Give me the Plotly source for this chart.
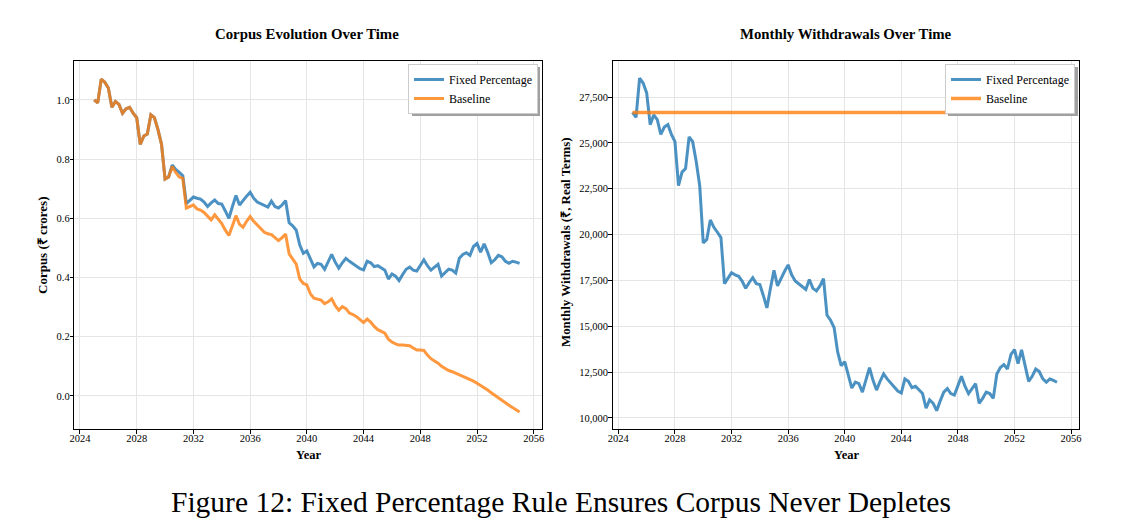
import plotly.graph_objects as go

# ---------------- data (quarterly from 2025.0) ----------------
corpus_fixed = [
    1.000, 0.990, 1.070, 1.060, 1.040, 0.975, 0.995, 0.985, 0.955, 0.970, 0.975, 0.955,
    0.940, 0.850, 0.878, 0.885, 0.950, 0.940, 0.900, 0.850, 0.733, 0.740, 0.780, 0.765,
    0.755, 0.744, 0.650, 0.662, 0.672, 0.668, 0.665, 0.655, 0.640, 0.652, 0.662, 0.650,
    0.648, 0.625, 0.600, 0.640, 0.677, 0.645, 0.662, 0.675, 0.688, 0.668, 0.655, 0.650,
    0.645, 0.638, 0.658, 0.640, 0.635, 0.645, 0.660, 0.585, 0.575, 0.560, 0.510, 0.482,
    0.490, 0.460, 0.436, 0.448, 0.445, 0.428, 0.455, 0.478, 0.452, 0.432, 0.450, 0.465,
    0.455, 0.447, 0.440, 0.430, 0.426, 0.455, 0.450, 0.437, 0.440, 0.432, 0.425, 0.395,
    0.412, 0.405, 0.390, 0.410, 0.428, 0.435, 0.425, 0.422, 0.440, 0.460, 0.440, 0.425,
    0.435, 0.445, 0.405, 0.415, 0.428, 0.425, 0.415, 0.465, 0.478, 0.484, 0.475, 0.505,
    0.515, 0.486, 0.514, 0.485, 0.450, 0.460, 0.475, 0.470, 0.455, 0.448, 0.455, 0.452,
    0.448,
]

corpus_baseline = [
    1.000, 0.990, 1.070, 1.060, 1.040, 0.975, 0.995, 0.985, 0.955, 0.970, 0.975, 0.955,
    0.940, 0.850, 0.878, 0.885, 0.950, 0.940, 0.900, 0.850, 0.733, 0.740, 0.775, 0.755,
    0.740, 0.735, 0.635, 0.640, 0.645, 0.632, 0.628, 0.620, 0.608, 0.595, 0.612, 0.598,
    0.582, 0.560, 0.542, 0.575, 0.609, 0.580, 0.570, 0.590, 0.606, 0.590, 0.577, 0.565,
    0.553, 0.548, 0.545, 0.535, 0.525, 0.535, 0.547, 0.480, 0.462, 0.445, 0.395, 0.380,
    0.375, 0.345, 0.330, 0.328, 0.324, 0.312, 0.318, 0.328, 0.305, 0.290, 0.302, 0.295,
    0.280, 0.275, 0.268, 0.258, 0.248, 0.260, 0.250, 0.235, 0.224, 0.218, 0.212, 0.192,
    0.182, 0.176, 0.172, 0.172, 0.172, 0.170, 0.162, 0.155, 0.155, 0.154, 0.138, 0.126,
    0.118, 0.111, 0.100, 0.092, 0.086, 0.082, 0.077, 0.072, 0.067, 0.060, 0.055, 0.050,
    0.043, 0.036, 0.028, 0.020, 0.011, 0.002, -0.007, -0.015, -0.023, -0.031, -0.039, -0.047,
    -0.054,
]

withdrawal_fixed = [
    26670, 26400, 28530, 28270, 27730, 26000, 26530, 26270, 25470, 25870, 26000, 25470,
    25070, 22670, 23410, 23600, 25330, 25070, 24000, 22670, 19550, 19730, 20800, 20400,
    20130, 19840, 17330, 17650, 17920, 17810, 17730, 17470, 17070, 17390, 17650, 17330,
    17280, 16670, 16000, 17070, 18050, 17200, 17650, 18000, 18350, 17810, 17470, 17330,
    17200, 17010, 17550, 17070, 16930, 17200, 17600, 15600, 15330, 14930, 13600, 12850,
    13070, 12270, 11630, 11950, 11870, 11410, 12130, 12750, 12050, 11520, 12000, 12400,
    12130, 11920, 11730, 11470, 11360, 12130, 12000, 11650, 11730, 11520, 11330, 10530,
    10990, 10800, 10400, 10930, 11410, 11600, 11330, 11250, 11730, 12270, 11730, 11330,
    11600, 11870, 10800, 11070, 11410, 11330, 11070, 12400, 12750, 12910, 12670, 13470,
    13730, 12960, 13710, 12930, 12000, 12270, 12670, 12530, 12130, 11950, 12130, 12050,
    11950,
]

withdrawal_baseline_value = 26667
years = [2025 + 0.25 * i for i in range(len(corpus_fixed))]
withdrawal_baseline = [withdrawal_baseline_value] * len(years)

x_ticks = [2024, 2028, 2032, 2036, 2040, 2044, 2048, 2052, 2056]
corpus_ticks = [0.0, 0.2, 0.4, 0.6, 0.8, 1.0]
withdraw_ticks = [10000, 12500, 15000, 17500, 20000, 22500, 25000, 27500]

# ---------------- styling ----------------
# the page body has an 8px margin, so the figure is 8px smaller and every
# reference pixel position is shifted by that margin
OFF = 8
W, H = 1121 - OFF, 521 - OFF
FONT = "Liberation Serif"
BLUE = "#1f77b4"
ORANGE = "#ff7f0e"


def px(x):
    return (x - OFF) / W


def py(y):
    return 1 - (y - OFF) / H


fig = go.Figure()

fig.add_trace(go.Scatter(x=years, y=corpus_fixed, mode="lines", name="Fixed Percentage",
                         line=dict(color=BLUE, width=3), opacity=0.8,
                         xaxis="x", yaxis="y", legend="legend"))
fig.add_trace(go.Scatter(x=years, y=corpus_baseline, mode="lines", name="Baseline",
                         line=dict(color=ORANGE, width=3), opacity=0.8,
                         xaxis="x", yaxis="y", legend="legend"))
fig.add_trace(go.Scatter(x=years, y=withdrawal_fixed, mode="lines", name="Fixed Percentage",
                         line=dict(color=BLUE, width=3), opacity=0.8,
                         xaxis="x2", yaxis="y2", legend="legend2"))
fig.add_trace(go.Scatter(x=years, y=withdrawal_baseline, mode="lines", name="Baseline",
                         line=dict(color=ORANGE, width=3.5), opacity=0.8,
                         xaxis="x2", yaxis="y2", legend="legend2"))

axis_common = dict(
    showline=True, linecolor="black", linewidth=1, mirror=True,
    ticks="outside", ticklen=3.5, tickwidth=0.8, tickcolor="black",
    showgrid=True, gridcolor="#e5e5e5", gridwidth=0.8, zeroline=False,
    tickfont=dict(family=FONT, size=10.5, color="black"), automargin=False,
)

xr = [2023.6, 2056.58]
ydom = [py(429), py(61)]
legend_common = dict(xanchor="right", yanchor="top", bgcolor="white",
                     bordercolor="#cccccc", borderwidth=1,
                     font=dict(family=FONT, size=12, color="black"), itemwidth=30,
                     tracegroupgap=0)
fig.update_layout(
    width=W, height=H,
    margin=dict(l=0, r=0, t=0, b=0),
    paper_bgcolor="white", plot_bgcolor="white",
    font=dict(family=FONT, color="black"),
    xaxis=dict(domain=[px(74.3), px(542)], range=xr, tickvals=x_ticks,
               anchor="y", ticklabelstandoff=-4, **axis_common),
    yaxis=dict(domain=ydom, range=[-0.1115, 1.1315], tickvals=corpus_ticks,
               tickformat=".1f", anchor="x", ticklabelstandoff=-2, **axis_common),
    xaxis2=dict(domain=[px(612.7), px(1079.3)], range=xr, tickvals=x_ticks,
                anchor="y2", ticklabelstandoff=-4, **axis_common),
    yaxis2=dict(domain=ydom, range=[9398, 29471], tickvals=withdraw_ticks,
                tickformat=",d", anchor="x2", ticklabelstandoff=-2, **axis_common),
    legend=dict(x=px(538), y=py(64), **legend_common),
    legend2=dict(x=px(1075), y=py(64), **legend_common),
    showlegend=True,
)

# legend drop shadows
for (x0, y0, x1, y1) in [(412, 67, 540, 116), (948, 67, 1078, 116)]:
    fig.add_shape(type="rect", xref="paper", yref="paper",
                  x0=px(x0), x1=px(x1), y0=py(y1), y1=py(y0),
                  fillcolor="#a0a0a0", line=dict(width=0), layer="above")

annots = [
    dict(text="<b>Corpus Evolution Over Time</b>", x=px(307), y=py(34), size=14.8, angle=0),
    dict(text="<b>Monthly Withdrawals Over Time</b>", x=px(846), y=py(34), size=14.8, angle=0),
    dict(text="<b>Year</b>", x=px(308), y=py(455), size=12.5, angle=0),
    dict(text="<b>Year</b>", x=px(846), y=py(455), size=12.5, angle=0),
    dict(text="<b>Corpus (₹ crores)</b>", x=px(42), y=py(245), size=13, angle=-90),
    dict(text="<b>Monthly Withdrawals (₹, Real Terms)</b>", x=px(566), y=py(242), size=12.9, angle=-90),
    dict(text="Figure 12: Fixed Percentage Rule Ensures Corpus Never Depletes",
         x=px(561), y=py(502), size=29.5, angle=0),
]
for a in annots:
    fig.add_annotation(text=a["text"], x=a["x"], y=a["y"], xref="paper", yref="paper",
                       xanchor="center", yanchor="middle", showarrow=False,
                       textangle=a["angle"], font=dict(family=FONT, size=a["size"], color="black"))

fig.write_html("out.html")
